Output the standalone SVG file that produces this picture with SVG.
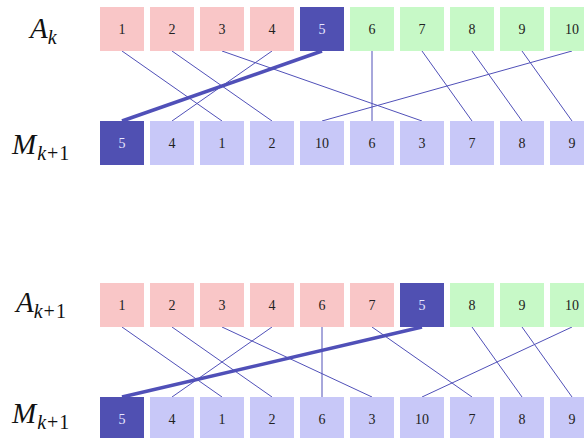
<svg xmlns="http://www.w3.org/2000/svg" width="584" height="438" viewBox="0 0 584 438">
<style>
.r{fill:#f9c6c7}.g{fill:#c7f9c7}.b{fill:#c8c8f8}.d{fill:#5050b2}
.t{font-family:"Liberation Serif",serif;font-size:14px;text-anchor:middle;fill:#222}
.tw{font-family:"Liberation Serif",serif;font-size:14px;text-anchor:middle;fill:#e8e8ff}
.lab{font-family:"Liberation Serif",serif;font-style:italic;font-size:29px;fill:#111}
.up{font-style:normal}
.c line{stroke:#5050b8;stroke-width:1}
.c line.k{stroke-width:3.5}
</style>
<rect width="584" height="438" fill="#fff"/>
<g id="labels">
<text class="lab" x="30" y="38">A<tspan font-size="20" dy="6">k</tspan></text>
<text class="lab" x="12" y="154">M<tspan font-size="20" dy="6" dx="1">k<tspan class="up" dx="1">+</tspan><tspan class="up" dx="1">1</tspan></tspan></text>
<text class="lab" x="16" y="312">A<tspan font-size="20" dy="6">k<tspan class="up" dx="1">+</tspan><tspan class="up" dx="1">1</tspan></tspan></text>
<text class="lab" x="12" y="423">M<tspan font-size="20" dy="6" dx="1">k<tspan class="up" dx="1">+</tspan><tspan class="up" dx="1">1</tspan></tspan></text>
</g>
<g class="c" id="connectors">
<line x1="122" y1="51" x2="222" y2="121"/>
<line x1="172" y1="51" x2="272" y2="121"/>
<line x1="222" y1="51" x2="422" y2="121"/>
<line x1="272" y1="51" x2="172" y2="121"/>
<line x1="372" y1="51" x2="372" y2="121"/>
<line x1="422" y1="51" x2="472" y2="121"/>
<line x1="472" y1="51" x2="522" y2="121"/>
<line x1="522" y1="51" x2="572" y2="121"/>
<line x1="572" y1="51" x2="322" y2="121"/>
<line class="k" x1="322" y1="51" x2="122" y2="121"/>
<line x1="122" y1="327" x2="222" y2="397"/>
<line x1="172" y1="327" x2="272" y2="397"/>
<line x1="222" y1="327" x2="372" y2="397"/>
<line x1="272" y1="327" x2="172" y2="397"/>
<line x1="322" y1="327" x2="322" y2="397"/>
<line x1="372" y1="327" x2="472" y2="397"/>
<line x1="472" y1="327" x2="522" y2="397"/>
<line x1="522" y1="327" x2="572" y2="397"/>
<line x1="572" y1="327" x2="422" y2="397"/>
<line class="k" x1="422" y1="327" x2="122" y2="397"/>
</g>
<g id="Ak">
<g id="a1"><rect class="r" x="100" y="7" width="44" height="44"/><text class="t" x="122" y="34">1</text></g>
<g id="a2"><rect class="r" x="150" y="7" width="44" height="44"/><text class="t" x="172" y="34">2</text></g>
<g id="a3"><rect class="r" x="200" y="7" width="44" height="44"/><text class="t" x="222" y="34">3</text></g>
<g id="a4"><rect class="r" x="250" y="7" width="44" height="44"/><text class="t" x="272" y="34">4</text></g>
<g id="a5"><rect class="d" x="300" y="7" width="44" height="44"/><text class="tw" x="322" y="34">5</text></g>
<g id="a6"><rect class="g" x="350" y="7" width="44" height="44"/><text class="t" x="372" y="34">6</text></g>
<g id="a7"><rect class="g" x="400" y="7" width="44" height="44"/><text class="t" x="422" y="34">7</text></g>
<g id="a8"><rect class="g" x="450" y="7" width="44" height="44"/><text class="t" x="472" y="34">8</text></g>
<g id="a9"><rect class="g" x="500" y="7" width="44" height="44"/><text class="t" x="522" y="34">9</text></g>
<g id="a10"><rect class="g" x="550" y="7" width="44" height="44"/><text class="t" x="572" y="34">10</text></g>
</g>
<g id="Mk1">
<g id="m1"><rect class="d" x="100" y="121" width="44" height="44"/><text class="tw" x="122" y="148">5</text></g>
<g id="m2"><rect class="b" x="150" y="121" width="44" height="44"/><text class="t" x="172" y="148">4</text></g>
<g id="m3"><rect class="b" x="200" y="121" width="44" height="44"/><text class="t" x="222" y="148">1</text></g>
<g id="m4"><rect class="b" x="250" y="121" width="44" height="44"/><text class="t" x="272" y="148">2</text></g>
<g id="m5"><rect class="b" x="300" y="121" width="44" height="44"/><text class="t" x="322" y="148">10</text></g>
<g id="m6"><rect class="b" x="350" y="121" width="44" height="44"/><text class="t" x="372" y="148">6</text></g>
<g id="m7"><rect class="b" x="400" y="121" width="44" height="44"/><text class="t" x="422" y="148">3</text></g>
<g id="m8"><rect class="b" x="450" y="121" width="44" height="44"/><text class="t" x="472" y="148">7</text></g>
<g id="m9"><rect class="b" x="500" y="121" width="44" height="44"/><text class="t" x="522" y="148">8</text></g>
<g id="m10"><rect class="b" x="550" y="121" width="44" height="44"/><text class="t" x="572" y="148">9</text></g>
</g>
<g id="Ak1">
<g id="b1"><rect class="r" x="100" y="283" width="44" height="44"/><text class="t" x="122" y="310">1</text></g>
<g id="b2"><rect class="r" x="150" y="283" width="44" height="44"/><text class="t" x="172" y="310">2</text></g>
<g id="b3"><rect class="r" x="200" y="283" width="44" height="44"/><text class="t" x="222" y="310">3</text></g>
<g id="b4"><rect class="r" x="250" y="283" width="44" height="44"/><text class="t" x="272" y="310">4</text></g>
<g id="b5"><rect class="r" x="300" y="283" width="44" height="44"/><text class="t" x="322" y="310">6</text></g>
<g id="b6"><rect class="r" x="350" y="283" width="44" height="44"/><text class="t" x="372" y="310">7</text></g>
<g id="b7"><rect class="d" x="400" y="283" width="44" height="44"/><text class="tw" x="422" y="310">5</text></g>
<g id="b8"><rect class="g" x="450" y="283" width="44" height="44"/><text class="t" x="472" y="310">8</text></g>
<g id="b9"><rect class="g" x="500" y="283" width="44" height="44"/><text class="t" x="522" y="310">9</text></g>
<g id="b10"><rect class="g" x="550" y="283" width="44" height="44"/><text class="t" x="572" y="310">10</text></g>
</g>
<g id="Mk1b">
<g id="n1"><rect class="d" x="100" y="397" width="44" height="44"/><text class="tw" x="122" y="424">5</text></g>
<g id="n2"><rect class="b" x="150" y="397" width="44" height="44"/><text class="t" x="172" y="424">4</text></g>
<g id="n3"><rect class="b" x="200" y="397" width="44" height="44"/><text class="t" x="222" y="424">1</text></g>
<g id="n4"><rect class="b" x="250" y="397" width="44" height="44"/><text class="t" x="272" y="424">2</text></g>
<g id="n5"><rect class="b" x="300" y="397" width="44" height="44"/><text class="t" x="322" y="424">6</text></g>
<g id="n6"><rect class="b" x="350" y="397" width="44" height="44"/><text class="t" x="372" y="424">3</text></g>
<g id="n7"><rect class="b" x="400" y="397" width="44" height="44"/><text class="t" x="422" y="424">10</text></g>
<g id="n8"><rect class="b" x="450" y="397" width="44" height="44"/><text class="t" x="472" y="424">7</text></g>
<g id="n9"><rect class="b" x="500" y="397" width="44" height="44"/><text class="t" x="522" y="424">8</text></g>
<g id="n10"><rect class="b" x="550" y="397" width="44" height="44"/><text class="t" x="572" y="424">9</text></g>
</g>
</svg>
